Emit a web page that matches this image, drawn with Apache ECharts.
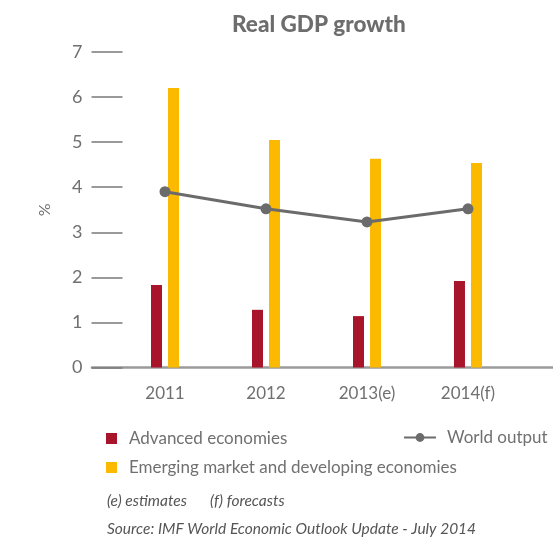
<!DOCTYPE html>
<html>
<head>
<meta charset="utf-8">
<script src="https://cdn.jsdelivr.net/npm/echarts@6/dist/echarts.min.js"></script>
<style>
  html, body { margin: 0; padding: 0; background: #ffffff; }
  #chart { width: 553px; height: 538px; }
</style>
</head>
<body>
<div id="chart"></div>
<script>
// Real GDP growth, % (IMF World Economic Outlook Update, July 2014)
const years = ['2011', '2012', '2013(e)', '2014(f)'];
const advanced = [1.83, 1.28, 1.14, 1.92];
const emerging = [6.2, 5.05, 4.63, 4.54];
const world = [3.9, 3.52, 3.23, 3.52];
const yTicks = [0, 1, 2, 3, 4, 5, 6, 7];

const FONT = 'Lato, "Open Sans", sans-serif';
const GREY_TEXT = '#707070';
const RED = '#a8142a';
const YELLOW = '#fbb900';
const LINE_GREY = '#6b6b6b';

const chart = echarts.init(document.getElementById('chart'), null, { renderer: 'canvas' });

const gridTop = 52;
const gridBottom = 170.5;

const noteStyle = { fontFamily: FONT, fontSize: 15.5, fontStyle: 'italic', fontWeight: 'normal', color: '#555555' };

chart.setOption({
  animation: false,
  backgroundColor: '#ffffff',
  textStyle: { fontFamily: FONT },
  title: [
    {
      text: 'Real GDP growth',
      left: 232, top: 13,
      padding: 0,
      textStyle: { fontFamily: FONT, fontSize: 22.5, fontWeight: 900, color: '#6d6d6d' }
    },
    { text: '(e) estimates', left: 107, top: 493, padding: 0, textStyle: noteStyle },
    { text: '(f) forecasts', left: 210, top: 493, padding: 0, textStyle: noteStyle },
    {
      text: 'Source: IMF World Economic Outlook Update - July 2014',
      left: 107, top: 521, padding: 0, textStyle: noteStyle
    }
  ],
  legend: [
    {
      data: ['Advanced economies'],
      left: 106, top: 430, padding: 0,
      icon: 'rect', itemWidth: 11, itemHeight: 11,
      textStyle: { fontFamily: FONT, fontSize: 17, color: GREY_TEXT, padding: [0, 0, 0, 7] }
    },
    {
      data: ['Emerging market and developing economies'],
      left: 106, top: 459, padding: 0,
      icon: 'rect', itemWidth: 11, itemHeight: 11,
      textStyle: { fontFamily: FONT, fontSize: 17, color: GREY_TEXT, padding: [0, 0, 0, 7] }
    },
    {
      data: ['World output'],
      left: 403, top: 429, padding: 0,
      itemWidth: 32, itemHeight: 11,
      textStyle: { fontFamily: FONT, fontSize: 17, color: GREY_TEXT, padding: [0, 0, 0, 6] }
    }
  ],
  grid: [
    { left: 114.5, right: 34.5, top: gridTop, bottom: gridBottom },
    // wider baseline running under the whole plot
    { left: 92, right: 0, top: gridTop, bottom: gridBottom }
  ],
  xAxis: [
    {
      type: 'category',
      gridIndex: 0,
      data: years,
      axisLine: { show: false },
      axisTick: { show: false },
      axisLabel: { fontFamily: FONT, fontSize: 17, color: GREY_TEXT, margin: 18 }
    },
    {
      type: 'value',
      gridIndex: 1,
      min: 0, max: 1,
      axisLine: { show: true, lineStyle: { color: '#9a9a9a', width: 2.5 } },
      axisTick: { show: false },
      axisLabel: { show: false },
      splitLine: { show: false }
    }
  ],
  yAxis: [
    {
      type: 'value',
      gridIndex: 0,
      min: yTicks[0], max: yTicks[yTicks.length - 1], interval: 1,
      offset: -8,
      name: '%',
      nameLocation: 'middle',
      nameRotate: 90,
      nameGap: 70,
      nameTextStyle: { fontFamily: FONT, fontSize: 16, color: GREY_TEXT },
      axisLine: { show: false },
      axisTick: { show: true, length: 31, lineStyle: { color: '#7a7a7a', width: 1.5 } },
      axisLabel: { fontFamily: FONT, fontSize: 18, color: GREY_TEXT, margin: 40 },
      splitLine: { show: false }
    },
    {
      type: 'value',
      gridIndex: 1,
      min: 0, max: 7,
      show: false
    }
  ],
  series: [
    {
      name: 'Advanced economies',
      type: 'bar',
      xAxisIndex: 0, yAxisIndex: 0,
      data: advanced,
      barWidth: 11,
      barGap: '55%',
      itemStyle: { color: RED }
    },
    {
      name: 'Emerging market and developing economies',
      type: 'bar',
      xAxisIndex: 0, yAxisIndex: 0,
      data: emerging,
      barWidth: 11,
      barGap: '55%',
      itemStyle: { color: YELLOW }
    },
    {
      name: 'World output',
      type: 'line',
      xAxisIndex: 0, yAxisIndex: 0,
      data: world,
      z: 5,
      symbol: 'circle',
      symbolSize: 11,
      lineStyle: { color: LINE_GREY, width: 3 },
      itemStyle: { color: LINE_GREY }
    }
  ]
});
</script>
</body>
</html>
